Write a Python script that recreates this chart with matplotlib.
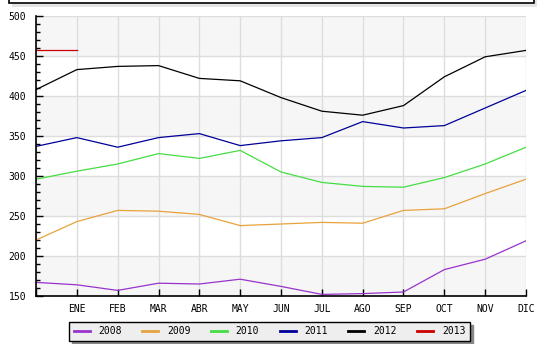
import matplotlib
matplotlib.use("Agg")
import matplotlib.pyplot as plt
from matplotlib.patches import Rectangle
from matplotlib.ticker import MultipleLocator

# posiciones: la primera sin etiqueta, luego los meses
meses = ['', 'ENE', 'FEB', 'MAR', 'ABR', 'MAY', 'JUN', 'JUL', 'AGO', 'SEP', 'OCT', 'NOV', 'DIC']

v2008 = [167, 164, 157, 166, 165, 171, 162, 152, 153, 155, 183, 196, 219]
v2009 = [220, 243, 257, 256, 252, 238, 240, 242, 241, 257, 259, 278, 296]
v2010 = [296, 306, 315, 328, 322, 332, 305, 292, 287, 286, 298, 315, 336]
v2011 = [337, 348, 336, 348, 353, 338, 344, 348, 368, 360, 363, 385, 407]
v2012 = [408, 433, 437, 438, 422, 419, 398, 381, 376, 388, 424, 449, 457]
v2013 = [457, 457]

series = [
    ('2008', v2008, '#9933cc'),
    ('2009', v2009, '#e8a23c'),
    ('2010', v2010, '#44dd44'),
    ('2011', v2011, '#000099'),
    ('2012', v2012, '#000000'),
    ('2013', v2013, '#cc0000'),
]

plt.rcParams['font.family'] = ['DejaVu Sans Mono']

fig = plt.figure(figsize=(5.46, 3.44), dpi=100)
ax = fig.add_axes([36 / 546, 48 / 344, 490 / 546, 280 / 344])

# bandas alternas de fondo
for lo in range(150, 500, 50):
    if (lo // 50) % 2 == 1:
        ax.axhspan(lo, lo + 50, color='#f6f6f6', zorder=0, lw=0)

for nombre, vals, color in series:
    ax.plot(range(len(vals)), vals, color=color, lw=0.9, label=nombre, zorder=3)

ax.set_xlim(0, 12)
ax.set_ylim(150, 500)
ax.set_xticks(range(13))
ax.set_xticklabels(meses)
ax.yaxis.set_major_locator(MultipleLocator(50))
ax.yaxis.set_minor_locator(MultipleLocator(10))

ax.grid(True, which='major', color='#dddddd', lw=1, zorder=1)
ax.set_axisbelow(True)
for s in ['top', 'right']:
    ax.spines[s].set_visible(False)
for s in ['left', 'bottom']:
    ax.spines[s].set_linewidth(1.2)
    ax.spines[s].set_zorder(5)

ax.tick_params(axis='x', which='major', direction='in', length=5, width=1,
               labelsize=7, pad=6)
ax.tick_params(axis='y', which='major', direction='in', length=5, width=1,
               labelsize=7, pad=7)
ax.tick_params(axis='y', which='minor', direction='in', length=3, width=1)

leg = ax.legend(loc='upper center', bbox_to_anchor=(269.5 / 546, 22 / 344),
                bbox_transform=fig.transFigure, ncol=6, fontsize=7,
                frameon=True, fancybox=False, edgecolor='black',
                facecolor='#eeeeee', framealpha=1, handlelength=1.65,
                handletextpad=0.9, columnspacing=2.1, borderpad=0.45,
                borderaxespad=0,
                shadow={'color': '#888888', 'alpha': 1})
for h in leg.get_lines():
    h.set_linewidth(2)
leg.get_frame().set_linewidth(1)

# caja de título cortada arriba
fig.patches.append(Rectangle((12 / 546, 0.99 - 4 / 344), 525 / 546, 0.2,
                             transform=fig.transFigure, facecolor='#e4e4e4',
                             edgecolor='none', zorder=0))
fig.patches.append(Rectangle((9 / 546, 0.99), 525 / 546, 0.2,
                             transform=fig.transFigure, facecolor='white',
                             edgecolor='black', lw=1.2, zorder=1))

fig.savefig('out.png', dpi=100)
